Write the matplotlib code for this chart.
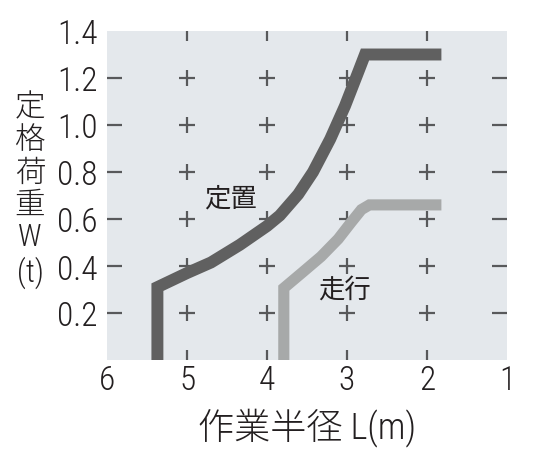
import matplotlib
matplotlib.use("Agg")
import matplotlib.pyplot as plt
from matplotlib import font_manager

# chart data
x_ticks = [6, 5, 4, 3, 2, 1]
y_ticks = [0.2, 0.4, 0.6, 0.8, 1.0, 1.2, 1.4]
y_tick_labels = ["0.2", "0.4", "0.6", "0.8", "1.0", "1.2", "1.4"]

# 定置 (stationary)
fixed_x = [5.37, 5.37, 5.0, 4.7, 4.34, 4.0, 3.84, 3.61, 3.425, 3.21, 3.025, 2.86, 2.775, 1.82]
fixed_y = [0.0, 0.31, 0.37, 0.415, 0.49, 0.57, 0.615, 0.705, 0.80, 0.94, 1.081, 1.225, 1.30, 1.30]

# 走行 (travelling)
travel_x = [3.79, 3.79, 3.56, 3.325, 3.11, 2.95, 2.82, 2.72, 1.82]
travel_y = [0.0, 0.306, 0.372, 0.44, 0.515, 0.585, 0.64, 0.66, 0.66]

# pick a narrow latin face if one is installed, CJK falls back to Noto
avail = {f.name for f in font_manager.fontManager.ttflist}
narrow = [n for n in ["Liberation Sans Narrow", "Roboto Condensed",
                      "Open Sans Condensed", "DejaVu Sans Condensed"] if n in avail]
fonts = narrow[:1] + ["Noto Sans CJK JP", "DejaVu Sans"]
plt.rcParams["font.family"] = fonts

text_col = "#231f20"
mark_col = "#58595b"

fig = plt.figure(figsize=(5.4, 4.6), dpi=100)
ax = fig.add_axes([107 / 540, 1 - 361 / 460, 400 / 540, 329 / 460])
ax.set_facecolor("#e4e8ec")
for s in ax.spines.values():
    s.set_visible(False)

ax.set_xlim(6, 1)
ax.set_ylim(0, 1.4)

# plus marks at the inner grid points
inner_x = [5, 4, 3, 2]
inner_y = [0.2, 0.4, 0.6, 0.8, 1.0, 1.2]
for xv in inner_x:
    ax.plot([xv] * len(inner_y), inner_y, linestyle="none", marker="+",
            markersize=11.5, mew=1.6, color=mark_col, zorder=2)

ax.plot(fixed_x, fixed_y, color="#606060", lw=8.6,
        solid_joinstyle="miter", solid_capstyle="butt", zorder=3)
ax.plot(travel_x, travel_y, color="#a7a9a9", lw=8.0,
        solid_joinstyle="miter", solid_capstyle="butt", zorder=3)

ax.text(4.46, 0.69, "定置", fontsize=19, color=text_col, ha="center", va="center", zorder=4)
ax.text(3.03, 0.30, "走行", fontsize=19, color=text_col, ha="center", va="center", zorder=4)

ax.set_xticks(x_ticks)
ax.set_xticklabels([str(v) for v in x_ticks])
ax.set_yticks(y_ticks)
ax.set_yticklabels(y_tick_labels)
ax.tick_params(axis="x", direction="in", length=7, width=1.6, color=mark_col,
               top=True, bottom=True, labelsize=24, labelcolor=text_col, pad=3)
ax.tick_params(axis="y", direction="in", length=11, width=1.6, color=mark_col,
               left=True, right=True, labelsize=24, labelcolor=text_col, pad=7)
for lab in ax.get_xticklabels() + ax.get_yticklabels():
    lab.set_fontweight("light")

# no tick marks on the outer edges
for t in (ax.xaxis.get_major_ticks()[0], ax.xaxis.get_major_ticks()[-1],
          ax.yaxis.get_major_ticks()[-1]):
    t.tick1line.set_visible(False)
    t.tick2line.set_visible(False)

fig.text(307 / 540, 1 - 428 / 460, "作業半径 L(m)", fontsize=26, color=text_col,
         ha="center", va="center", fontweight="light")
fig.text(30 / 540, 1 - 191 / 460, "定\n格\n荷\n重\nW\n(t)", fontsize=22,
         color=text_col, ha="center", va="center", linespacing=1.15,
         fontweight="light")

fig.savefig("out.png", dpi=100, facecolor="white")
